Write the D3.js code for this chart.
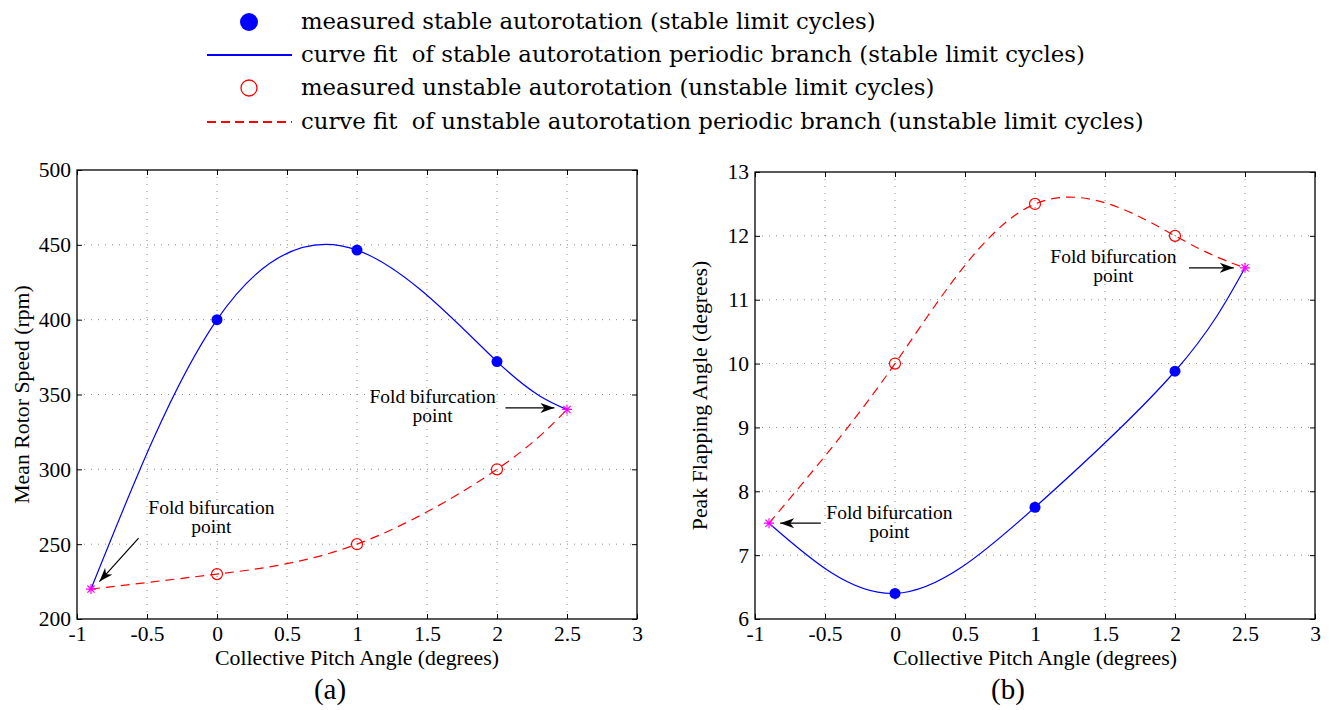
<!DOCTYPE html>
<html>
<head>
<meta charset="utf-8">
<script src="https://cdn.jsdelivr.net/npm/d3@7"></script>
<style>
  body { margin: 0; background: #fff; }
  svg { display: block; }
  text { font-family: 'Liberation Serif', 'Times New Roman', serif; fill: #000; }
  .legend text { font-family: 'DejaVu Serif', serif; white-space: pre; }
</style>
</head>
<body>
<div id="chart"></div>
<script>
// collective pitch angle (degrees)
const pitchStable = [-0.9, 0, 1, 2, 2.5];
const pitchUnstable = [-0.9, 0, 1, 2, 2.5];

// (a) mean rotor speed (rpm)
const rpmStable = [220, 400, 446.5, 372, 340];
const rpmUnstable = [220, 230, 250, 300, 340];

// (b) peak flapping angle (degrees)
const flapStable = [7.5, 6.4, 7.75, 9.88, 11.5];
const flapUnstable = [7.5, 10, 12.5, 12, 11.5];

const xTicks = [-1, -0.5, 0, 0.5, 1, 1.5, 2, 2.5, 3];
const rpmTicks = [200, 250, 300, 350, 400, 450, 500];
const flapTicks = [6, 7, 8, 9, 10, 11, 12, 13];

const legendLabels = [
  "measured stable autorotation (stable limit cycles)",
  "curve fit  of stable autorotation periodic branch (stable limit cycles)",
  "measured unstable autorotation (unstable limit cycles)",
  "curve fit  of unstable autorotation periodic branch (unstable limit cycles)"
];

const W = 1330, H = 710;
const svg = d3.select("#chart").append("svg")
  .attr("width", W).attr("height", H);

svg.append("defs").append("marker")
  .attr("id", "arrow")
  .attr("viewBox", "0 0 14 10")
  .attr("refX", 14).attr("refY", 5)
  .attr("markerWidth", 14).attr("markerHeight", 10)
  .attr("markerUnits", "userSpaceOnUse")
  .attr("orient", "auto")
  .append("path")
  .attr("d", "M0,0 L14,5 L0,10 L4,5 Z")
  .attr("fill", "#000");

// ---- legend ----
const leg = svg.append("g").attr("class", "legend");
const legY = [22, 55, 88, 122];
leg.append("circle").attr("cx", 249).attr("cy", legY[0]).attr("r", 9).attr("fill", "#0000ff");
leg.append("line").attr("x1", 207).attr("x2", 292).attr("y1", legY[1]).attr("y2", legY[1])
  .attr("stroke", "#0000ff").attr("stroke-width", 2);
leg.append("circle").attr("cx", 249).attr("cy", legY[2]).attr("r", 8)
  .attr("fill", "none").attr("stroke", "#ff0000").attr("stroke-width", 1.3);
leg.append("line").attr("x1", 207).attr("x2", 292).attr("y1", legY[3]).attr("y2", legY[3])
  .attr("stroke", "#ff0000").attr("stroke-width", 2).attr("stroke-dasharray", "9,5");
leg.selectAll("text.lab").data(legendLabels).join("text")
  .attr("class", "lab")
  .attr("x", 301)
  .attr("y", (d, i) => legY[i] + 7)
  .style("font-size", "22.8px")
  .text(d => d);

function star(g, cx, cy) {
  const r = 5;
  const a = r * 0.72;
  g.append("path")
    .attr("d", `M${cx - r},${cy}L${cx + r},${cy}M${cx},${cy - r}L${cx},${cy + r}` +
      `M${cx - a},${cy - a}L${cx + a},${cy + a}M${cx - a},${cy + a}L${cx + a},${cy - a}`)
    .attr("stroke", "#ff00ff").attr("stroke-width", 1.2).attr("fill", "none");
}

function panel(opt) {
  const {x0, x1, y0, y1, yDomain, yTicks, stable, unstable, yTitle, tag, notes} = opt;
  const x = d3.scaleLinear().domain([-1, 3]).range([x0, x1]);
  const y = d3.scaleLinear().domain(yDomain).range([y1, y0]);
  const g = svg.append("g");

  // dotted grid
  g.append("g").selectAll("line").data(xTicks.slice(1, -1)).join("line")
    .attr("x1", d => x(d)).attr("x2", d => x(d)).attr("y1", y0).attr("y2", y1)
    .attr("stroke", "#8a8a8a").attr("stroke-width", 1).attr("stroke-dasharray", "1,6");
  g.append("g").selectAll("line").data(yTicks.slice(1, -1)).join("line")
    .attr("y1", d => y(d)).attr("y2", d => y(d)).attr("x1", x0).attr("x2", x1)
    .attr("stroke", "#8a8a8a").attr("stroke-width", 1).attr("stroke-dasharray", "1,6");

  // axes, ticks pointing inward on all sides
  const tk = 5;
  const num = d => d < 0 ? "-" + Math.abs(d) : String(d);
  const axB = g.append("g").attr("transform", `translate(0,${y1})`)
    .call(d3.axisBottom(x).tickValues(xTicks).tickSizeInner(-tk).tickSizeOuter(0).tickPadding(7)
      .tickFormat(num));
  const axT = g.append("g").attr("transform", `translate(0,${y0})`)
    .call(d3.axisTop(x).tickValues(xTicks).tickSizeInner(-tk).tickSizeOuter(0).tickFormat(""));
  const axL = g.append("g").attr("transform", `translate(${x0},0)`)
    .call(d3.axisLeft(y).tickValues(yTicks).tickSizeInner(-tk).tickSizeOuter(0).tickPadding(6)
      .tickFormat(num));
  const axR = g.append("g").attr("transform", `translate(${x1},0)`)
    .call(d3.axisRight(y).tickValues(yTicks).tickSizeInner(-tk).tickSizeOuter(0).tickFormat(""));
  [axB, axT, axL, axR].forEach(a => {
    a.attr("font-family", null).attr("font-size", null);
    a.select(".domain").remove();
    a.selectAll("line").attr("stroke", "#000");
    a.selectAll("text").style("font-size", "21.5px");
  });
  g.append("rect").attr("x", x0).attr("y", y0).attr("width", x1 - x0).attr("height", y1 - y0)
    .attr("fill", "none").attr("stroke", "#000").attr("stroke-width", 1.3);

  // curve fits
  const line = d3.line().x(d => x(d[0])).y(d => y(d[1])).curve(d3.curveNatural);
  g.append("path").datum(d3.zip(pitchUnstable, unstable))
    .attr("d", line).attr("fill", "none").attr("stroke", "#ff0000")
    .attr("stroke-width", 1.2).attr("stroke-dasharray", "9,6");
  g.append("path").datum(d3.zip(pitchStable, stable))
    .attr("d", line).attr("fill", "none").attr("stroke", "#0000ff").attr("stroke-width", 1.2);

  // measured points (the end points are the fold bifurcations)
  const inner = d3.range(1, pitchStable.length - 1);
  g.selectAll("circle.s").data(inner).join("circle").attr("class", "s")
    .attr("cx", i => x(pitchStable[i])).attr("cy", i => y(stable[i])).attr("r", 5.5)
    .attr("fill", "#0000ff");
  g.selectAll("circle.u").data(inner).join("circle").attr("class", "u")
    .attr("cx", i => x(pitchUnstable[i])).attr("cy", i => y(unstable[i])).attr("r", 5.5)
    .attr("fill", "none").attr("stroke", "#ff0000").attr("stroke-width", 1.2);
  star(g, x(pitchStable[0]), y(stable[0]));
  star(g, x(pitchStable[pitchStable.length - 1]), y(stable[stable.length - 1]));

  // annotations
  notes.forEach(n => {
    const t = g.append("text").attr("text-anchor", "middle").style("font-size", "19.5px");
    t.append("tspan").attr("x", x(n.tx)).attr("y", y(n.ty)).text("Fold bifurcation");
    t.append("tspan").attr("x", x(n.tx)).attr("dy", 19).text("point");
    g.append("line")
      .attr("x1", x(n.a[0])).attr("y1", y(n.a[1])).attr("x2", x(n.a[2])).attr("y2", y(n.a[3]))
      .attr("stroke", "#000").attr("stroke-width", 1.2).attr("marker-end", "url(#arrow)");
  });

  // titles
  g.append("text").attr("x", (x0 + x1) / 2).attr("y", y1 + 46)
    .attr("text-anchor", "middle").style("font-size", "21.8px")
    .text("Collective Pitch Angle (degrees)");
  g.append("text")
    .attr("transform", `translate(${x0 - 48},${(y0 + y1) / 2}) rotate(-90)`)
    .attr("text-anchor", "middle").style("font-size", "21.8px").text(yTitle);
  g.append("text").attr("x", (x0 + x1) / 2 - 27).attr("y", y1 + 80)
    .attr("text-anchor", "middle").style("font-size", "29px").text(tag);
}

panel({
  x0: 77, x1: 637, y0: 170, y1: 619,
  yDomain: [200, 500], yTicks: rpmTicks,
  stable: rpmStable, unstable: rpmUnstable,
  yTitle: "Mean Rotor Speed (rpm)", tag: "(a)",
  notes: [
    {tx: -0.04, ty: 270, a: [-0.56, 254, -0.84, 225]},
    {tx: 1.54, ty: 344, a: [2.06, 341, 2.41, 341]}
  ]
});

panel({
  x0: 755, x1: 1315, y0: 172, y1: 619,
  yDomain: [6, 13], yTicks: flapTicks,
  stable: flapStable, unstable: flapUnstable,
  yTitle: "Peak Flapping Angle (degrees)", tag: "(b)",
  notes: [
    {tx: -0.04, ty: 7.57, a: [-0.53, 7.5, -0.82, 7.5]},
    {tx: 1.56, ty: 11.58, a: [2.1, 11.5, 2.42, 11.5]}
  ]
});
</script>
</body>
</html>
